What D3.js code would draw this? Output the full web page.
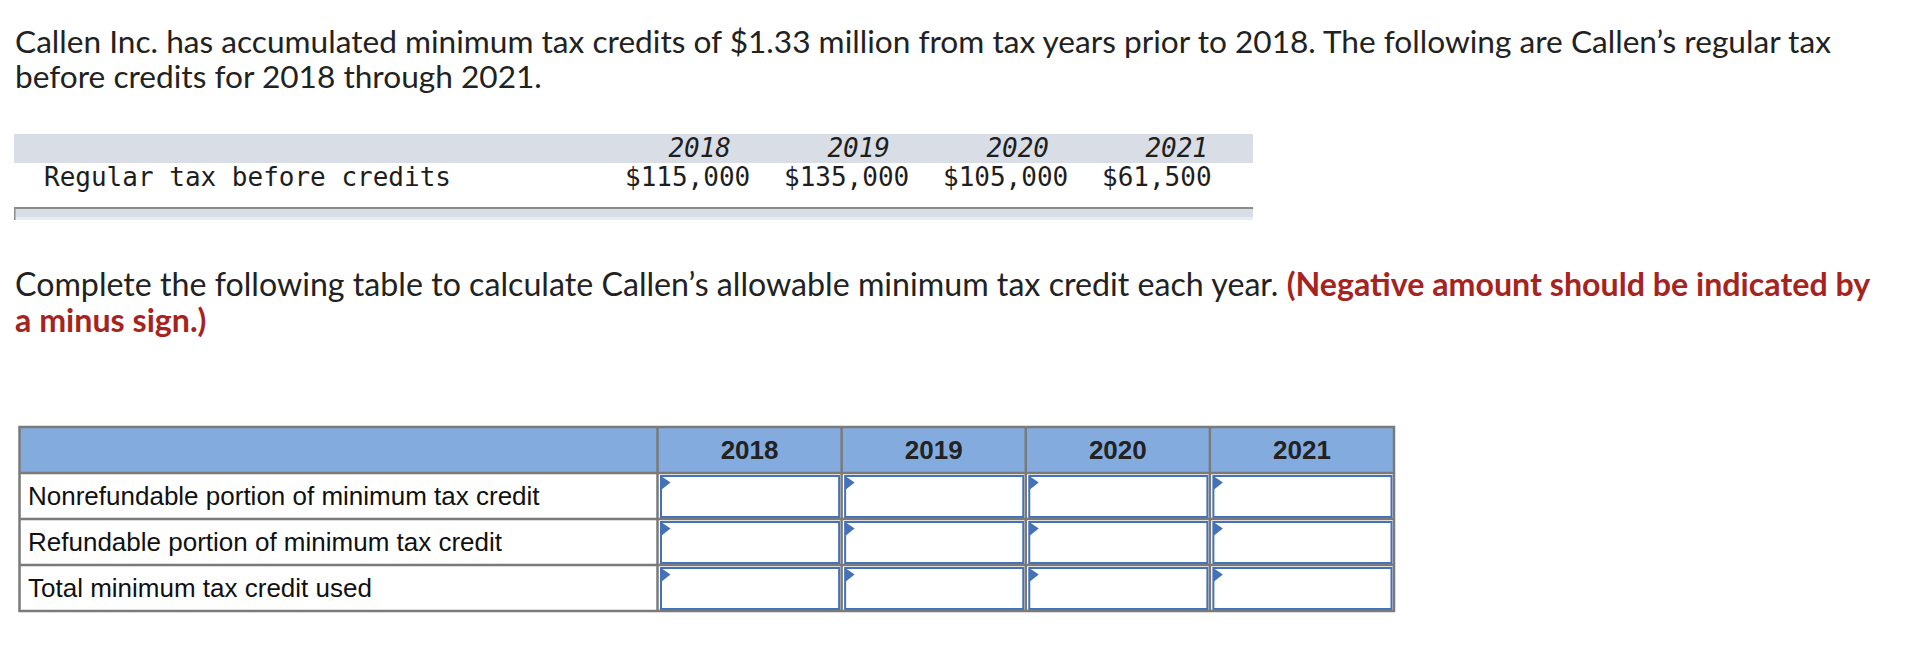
<!DOCTYPE html>
<html>
<head>
<meta charset="utf-8">
<script src="https://cdn.jsdelivr.net/npm/d3@7"></script>
<style>
  body { margin: 0; background: #fff; }
  svg { display: block; }
</style>
</head>
<body>
<div id="chart"></div>
<script>
// given data
const years=["2018", "2019", "2020", "2021"];
const regularTax=[115000, 135000, 105000, 61500];
const givenLabel="Regular tax before credits";

// answer table
const answerRows=[
    "Nonrefundable portion of minimum tax credit",
    "Refundable portion of minimum tax credit",
    "Total minimum tax credit used"
];

const intro=[
    "Callen Inc. has accumulated minimum tax credits of $1.33 million from tax years prior to 2018. The following are Callen’s regular tax",
    "before credits for 2018 through 2021."
];
const instruction="Complete the following table to calculate Callen’s allowable minimum tax credit each year. ";
const warning=["(Negative amount should be indicated by", "a minus sign.)"];

const W=1908, H=668;
const proseFont="Lato, 'Open Sans', sans-serif";
const monoFont="'DejaVu Sans Mono', monospace";
const tableFont="'Liberation Sans', Arial, sans-serif";

const svg=d3.select("#chart").append("svg")
    .attr("width", W)
    .attr("height", H)
    .attr("viewBox", [0, 0, W, H]);

// ---- prose ----
const prose=svg.append("g").style("font-family", proseFont).style("fill", "#222");

const para1=prose.append("g");
const p1=para1.append("text").attr("x", 15).attr("y", 52.5).text(intro[0]);
para1.append("text").attr("x", 15).attr("y", 87.5).text(intro[1]);

const para2=prose.append("g");
const p3=para2.append("text").attr("x", 15).attr("y", 295.5);
p3.append("tspan").text(instruction);
p3.append("tspan").style("font-weight", "bold").style("fill", "#a6241f").text(warning[0]);
para2.append("text").attr("x", 15).attr("y", 331.5)
    .style("font-weight", "bold").style("fill", "#a6241f").text(warning[1]);

// fit each paragraph's size to the width of its first line
function fit (g, first, target) {
    g.selectAll("text").style("font-size", "26px");
    const s=26*target/first.node().getComputedTextLength();
    g.selectAll("text").style("font-size", s+"px");
}
fit(para1, p1, 1817);
fit(para2, p3, 1856);

// ---- given table ----
const cols=d3.scaleBand().domain(years).range([625, 1261]);
const fmt=d3.format("$,");

svg.append("rect")
    .attr("x", 14).attr("y", 134)
    .attr("width", 1253-14).attr("height", 29)
    .attr("fill", "#d8dde6");

svg.append("rect")
    .attr("x", 14).attr("y", 209)
    .attr("width", 1253-14).attr("height", 11)
    .attr("fill", "#d8dde6");
svg.append("rect")
    .attr("x", 14).attr("y", 217)
    .attr("width", 1253-14).attr("height", 3)
    .attr("fill", "#e7ebf4");
svg.append("rect")
    .attr("x", 14).attr("y", 207)
    .attr("width", 1253-14).attr("height", 2)
    .attr("fill", "#8a8a8a");
svg.append("rect")
    .attr("x", 14).attr("y", 207)
    .attr("width", 1.5).attr("height", 13)
    .attr("fill", "#8a8a8a");

const given=svg.append("g")
    .style("font-family", monoFont)
    .style("font-size", "26px")
    .style("fill", "#1e1e1e");

given.append("text").attr("x", 44).attr("y", 186).text(givenLabel);

given.selectAll(".yr")
    .data(years)
    .enter().append("text")
    .attr("class", "yr")
    .attr("x", d => cols(d)+106)
    .attr("y", 157)
    .attr("text-anchor", "end")
    .style("font-style", "italic")
    .text(d => d);

given.selectAll(".val")
    .data(regularTax)
    .enter().append("text")
    .attr("class", "val")
    .attr("x", (d, i) => cols(years[i]))
    .attr("y", 186)
    .text(d => fmt(d));

// ---- answer table ----
const rowsY=d3.scaleBand().domain(["head", ...answerRows]).range([427, 611]);
const yearX=d3.scaleBand().domain(years).range([657.5, 1394]);
const left=19.5;
const grid="#7a7a7a";

const t=svg.append("g").style("font-family", tableFont);

t.append("rect")
    .attr("x", left).attr("y", rowsY("head"))
    .attr("width", 1394-left).attr("height", rowsY.bandwidth())
    .attr("fill", "#84abde");

t.selectAll(".hd")
    .data(years)
    .enter().append("text")
    .attr("class", "hd")
    .attr("x", d => yearX(d)+yearX.bandwidth()/2)
    .attr("y", rowsY("head")+rowsY.bandwidth()/2+9)
    .attr("text-anchor", "middle")
    .style("font-size", "26px")
    .style("font-weight", "bold")
    .style("fill", "#222")
    .text(d => d);

t.selectAll(".lbl")
    .data(answerRows)
    .enter().append("text")
    .attr("class", "lbl")
    .attr("x", 28)
    .attr("y", d => rowsY(d)+rowsY.bandwidth()/2+9)
    .style("font-size", "26px")
    .style("fill", "#111")
    .text(d => d);

// input boxes
const cells=answerRows.flatMap(r => years.map(y => ({row: r, year: y})));
const box=t.selectAll(".cell")
    .data(cells)
    .enter().append("g")
    .attr("class", "cell")
    .attr("transform", d => `translate(${yearX(d.year)},${rowsY(d.row)})`);

box.append("rect")
    .attr("x", 3.5).attr("y", 3)
    .attr("width", yearX.bandwidth()-6).attr("height", rowsY.bandwidth()-5)
    .attr("fill", "#fff")
    .attr("stroke", "#4472b8")
    .attr("stroke-width", 2);

box.append("path")
    .attr("d", "M3.5,3 L13,9.5 L3.5,17 Z")
    .attr("fill", "#4472b8");

// grid lines
t.selectAll(".hline")
    .data(rowsY.domain().slice(1))
    .enter().append("line")
    .attr("class", "hline")
    .attr("x1", left).attr("x2", 1394)
    .attr("y1", d => rowsY(d)).attr("y2", d => rowsY(d))
    .attr("stroke", grid).attr("stroke-width", 2.5);

t.selectAll(".vline")
    .data(years)
    .enter().append("line")
    .attr("class", "vline")
    .attr("x1", d => yearX(d)).attr("x2", d => yearX(d))
    .attr("y1", 427).attr("y2", 611)
    .attr("stroke", grid).attr("stroke-width", 2.5);

t.append("rect")
    .attr("x", left).attr("y", 427)
    .attr("width", 1394-left).attr("height", 611-427)
    .attr("fill", "none")
    .attr("stroke", grid).attr("stroke-width", 2.5);
</script>
</body>
</html>
